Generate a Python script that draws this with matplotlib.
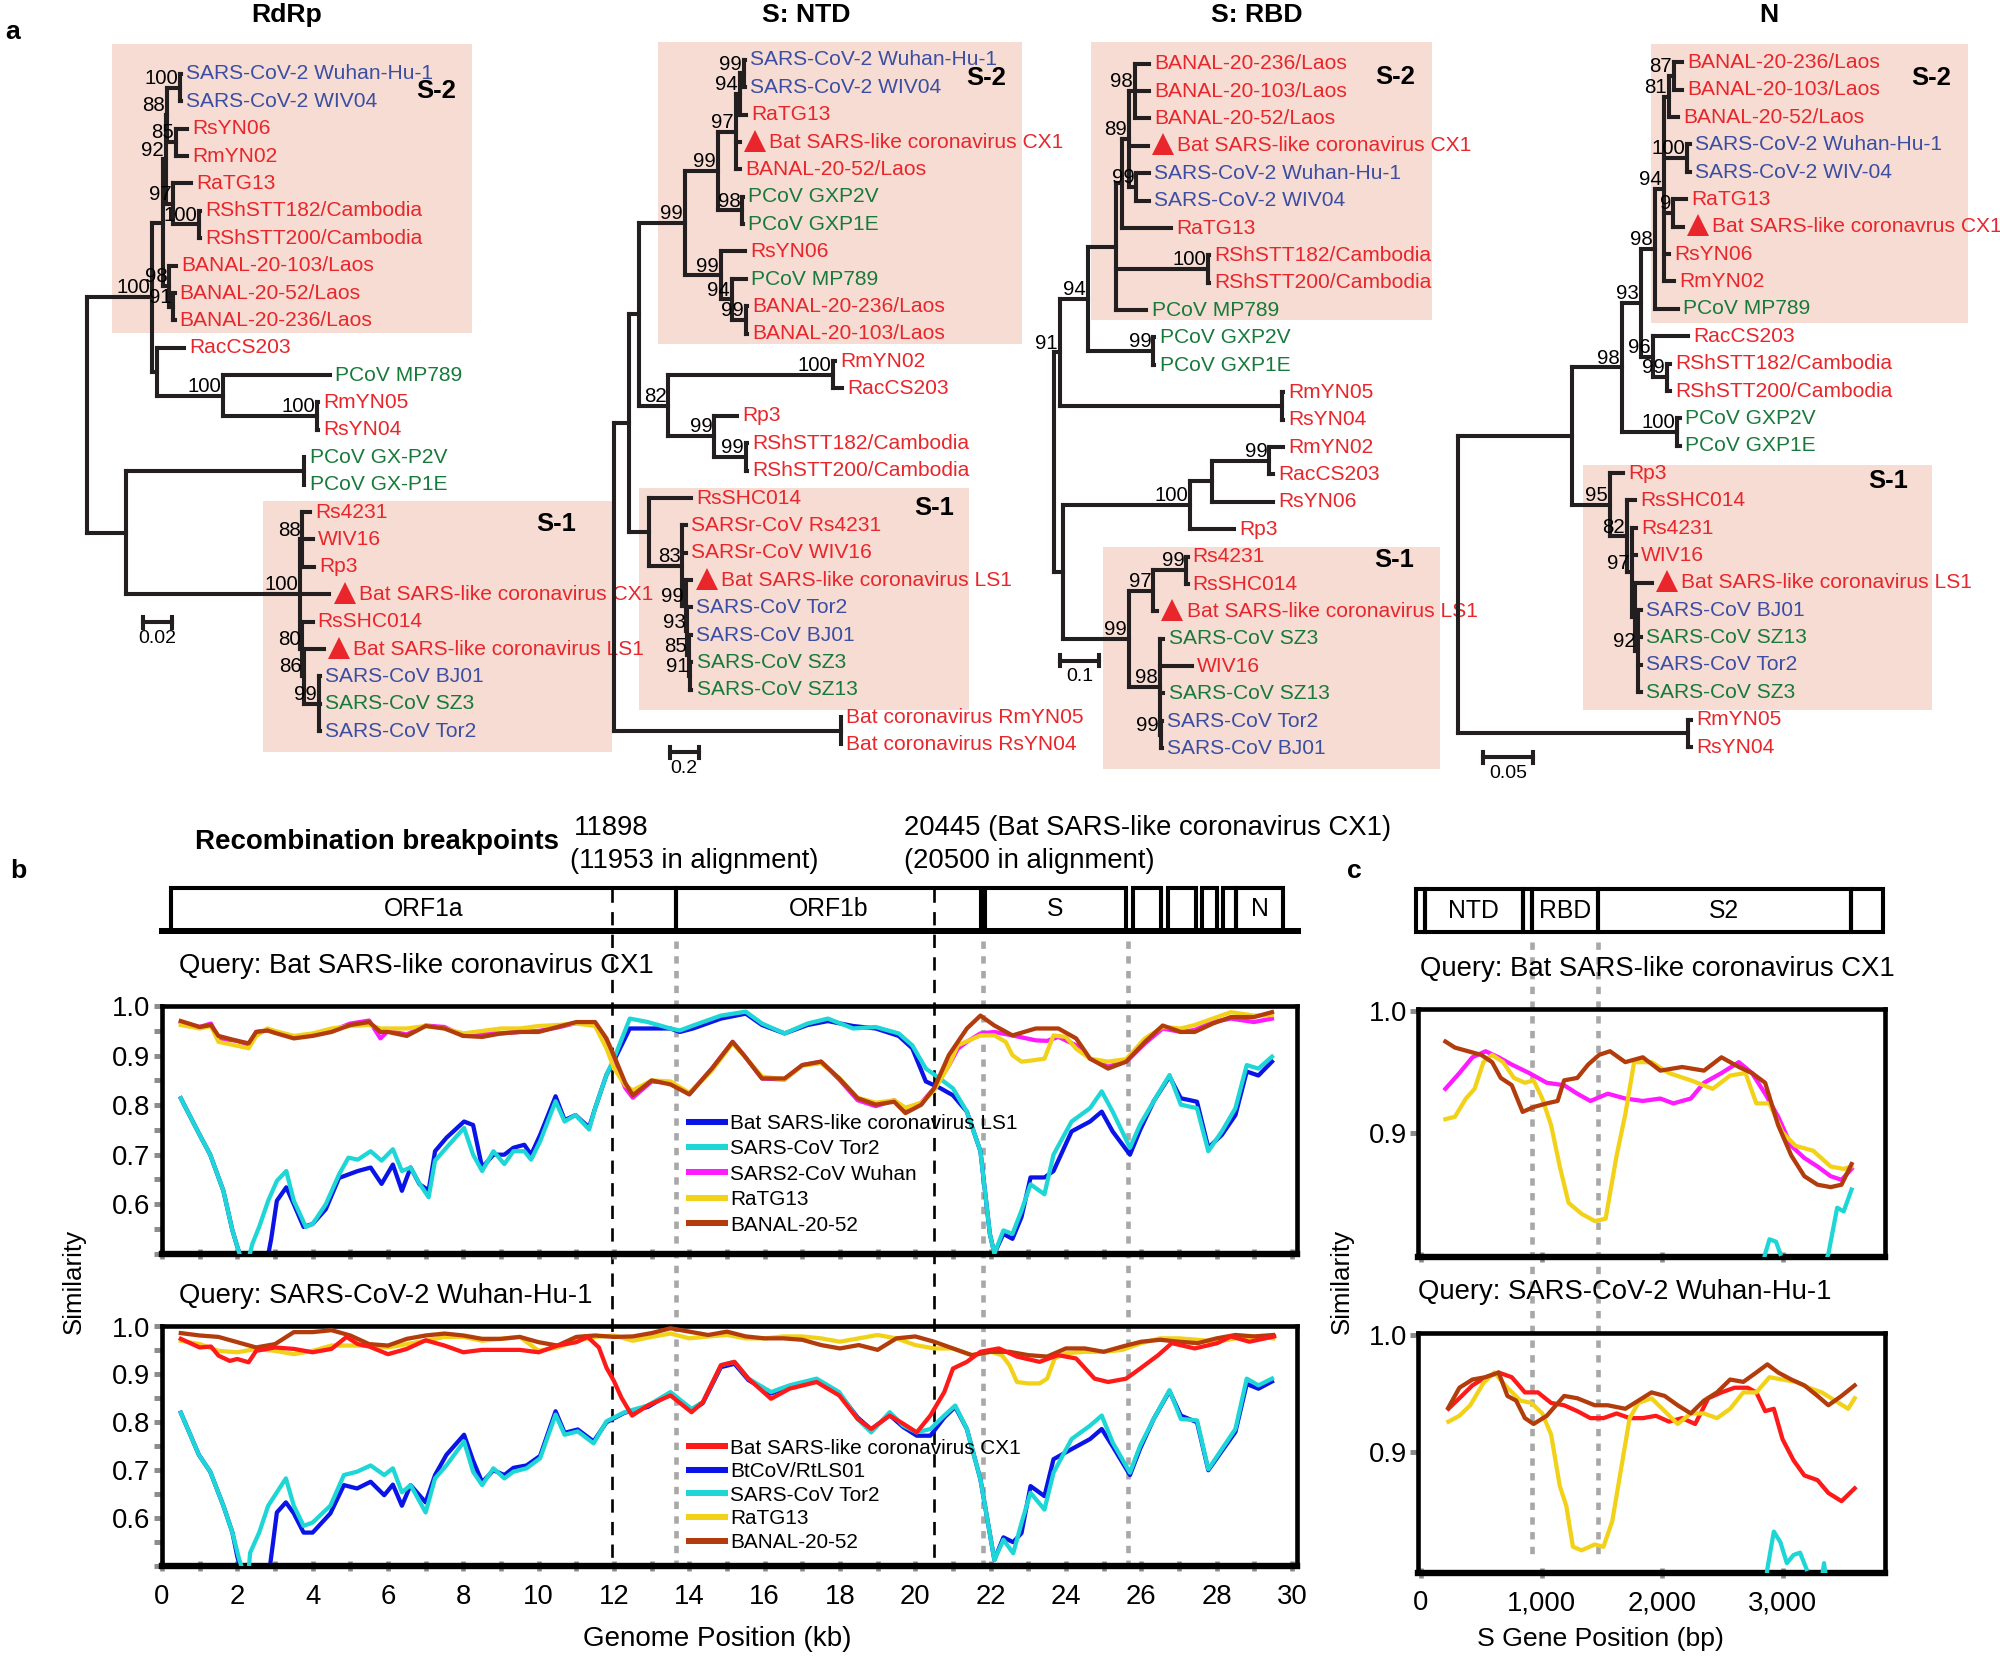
import re
import numpy as np
import matplotlib
matplotlib.use('Agg')
import matplotlib.pyplot as plt
from matplotlib.patches import Rectangle
from matplotlib.lines import Line2D
from matplotlib.collections import LineCollection
import matplotlib.transforms as mtransforms

plt.rcParams['font.family'] = ['Liberation Sans', 'DejaVu Sans']

# ---------------- data: trees (Newick, branch lengths in substitutions/site) ----------------
RDRP_TREE = (
    "(((((("
    "(SARS-CoV-2 Wuhan-Hu-1:0.0009,SARS-CoV-2 WIV04:0.0009)100:0.0087,"
    "(RsYN06:0.0078,RmYN02:0.0078)85:0.0061)88:0.0009,"
    "(RaTG13:0.0122,(RShSTT182/Cambodia:0.0009,RShSTT200/Cambodia:0.0009)100:0.0174)97:0.0052)92:0.0017,"
    "(BANAL-20-103/Laos:0.0043,(BANAL-20-52/Laos:0.0009,BANAL-20-236/Laos:0.0009)91:0.0026)98:0.0043):0.0078,"
    "(RacCS203:0.0183,(PCoV MP789:0.073,(RmYN05:0.0005,RsYN04:0.0005)100:0.0643)100:0.0452):0.0035)100:0.0443,"
    "((PCoV GX-P2V:0.0005,PCoV GX-P1E:0.0005):0.1209,"
    "((Rs4231:0.0052,WIV16:0.007,Rp3:0.0078)88:0.0017,"
    "Bat SARS-like coronavirus CX1:0.02,"
    "(RsSHC014:0.007,(Bat SARS-like coronavirus LS1:0.0139,"
    "(SARS-CoV BJ01:0.0005,SARS-CoV SZ3:0.0005,SARS-CoV Tor2:0.0005)99:0.0104)86:0.0009)80:0.0017"
    ")100:0.1183):0.027);"
)

NTD_TREE = (
    "((((("
    "((((SARS-CoV-2 Wuhan-Hu-1:0.01,SARS-CoV-2 WIV04:0.01)99:0.026,RaTG13:0.043)94:0.026,"
    "Bat SARS-like coronavirus CX1:0.026,BANAL-20-52/Laos:0.026)97:0.122,"
    "(PCoV GXP2V:0.005,PCoV GXP1E:0.005)98:0.165)99:0.226,"
    "(RsYN06:0.165,(PCoV MP789:0.096,(BANAL-20-236/Laos:0.005,BANAL-20-103/Laos:0.005)99:0.096)94:0.078)99:0.243"
    ")99:0.313,"
    "((RmYN02:0.017,RacCS203:0.061)100:1.122,"
    "(Rp3:0.157,(RShSTT182/Cambodia:0.005,RShSTT200/Cambodia:0.005)99:0.217)99:0.313)82:0.2):0.07,"
    "(RsSHC014:0.287,(SARSr-CoV Rs4231:0.026,SARSr-CoV WIV16:0.026,"
    "(Bat SARS-like coronavirus LS1:0.035,(SARS-CoV Tor2:0.026,(SARS-CoV BJ01:0.017,"
    "(SARS-CoV SZ3:0.009,SARS-CoV SZ13:0.009)91:0.009)85:0.009)93:0.009)99:0.026)83:0.226):0.139):0.104,"
    "(Bat coronavirus RmYN05:0.005,Bat coronavirus RsYN04:0.005):1.548);"
)

RBD_TREE = (
    "(((((((BANAL-20-236/Laos:0.035,BANAL-20-103/Laos:0.035,BANAL-20-52/Laos:0.035)98:0.016,"
    "Bat SARS-like coronavirus CX1:0.048,"
    "(SARS-CoV-2 Wuhan-Hu-1:0.032,SARS-CoV-2 WIV04:0.032)99:0.019)89:0.016,RaTG13:0.123):0.016,"
    "(RShSTT182/Cambodia:0.003,RShSTT200/Cambodia:0.003)100:0.232,PCoV MP789:0.077):0.071,"
    "(PCoV GXP2V:0.003,PCoV GXP1E:0.003)99:0.165)94:0.071,"
    "(RmYN05:0.003,RsYN04:0.003):0.561)91:0.016,"
    "((((RmYN02:0.035,RacCS203:0.01)99:0.145,RsYN06:0.155):0.055,Rp3:0.11)100:0.323,"
    "(((Rs4231:0.003,RsSHC014:0.003)99:0.084,Bat SARS-like coronavirus LS1:0.01)97:0.061,"
    "(SARS-CoV SZ3:0.01,WIV16:0.081,SARS-CoV SZ13:0.01,"
    "(SARS-CoV Tor2:0.003,SARS-CoV BJ01:0.003)99:0.003)98:0.077)99:0.168):0.023);"
)

N_TREE = (
    "((((((((BANAL-20-236/Laos:0.008,BANAL-20-103/Laos:0.008)87:0.005,BANAL-20-52/Laos:0.009)81:0.005,"
    "(SARS-CoV-2 Wuhan-Hu-1:0.003,SARS-CoV-2 WIV-04:0.003)100:0.023,"
    "(RaTG13:0.013,Bat SARS-like coronavrus CX1:0.01)9:0.009,"
    "RsYN06:0.005,RmYN02:0.01)94:0.009,PCoV MP789:0.023)98:0.014,"
    "(RacCS203:0.035,(RShSTT182/Cambodia:0.003,RShSTT200/Cambodia:0.003)99:0.014)96:0.012)93:0.019,"
    "(PCoV GXP2V:0.003,PCoV GXP1E:0.003)100:0.055)98:0.05,"
    "(Rp3:0.013,(RsSHC014:0.008,(Rs4231:0.004,WIV16:0.004,"
    "(Bat SARS-like coronavirus LS1:0.017,"
    "(SARS-CoV BJ01:0.003,SARS-CoV SZ13:0.003,SARS-CoV Tor2:0.003,SARS-CoV SZ3:0.003)92:0.003):0.003"
    ")97:0.005)82:0.017)95:0.038):0.115,"
    "(RmYN05:0.003,RsYN04:0.003):0.231);"
)

SCALE_BARS = {'RdRp': 0.02, 'S: NTD': 0.2, 'S: RBD': 0.1, 'N': 0.05}

BLUE_NAMES = ['SARS-CoV-2 Wuhan-Hu-1', 'SARS-CoV-2 WIV04', 'SARS-CoV-2 WIV-04',
              'SARS-CoV BJ01', 'SARS-CoV Tor2']
GREEN_NAMES = ['SARS-CoV SZ3', 'SARS-CoV SZ13']

# ---------------- data: genome maps ----------------
GENES_KB = [('ORF1a', 0.24, 13.65), ('ORF1b', 13.65, 21.74), ('S', 21.84, 25.6),
            ('', 25.77, 26.52), ('', 26.72, 27.46), ('', 27.6, 28.0),
            ('', 28.17, 28.51), ('N', 28.51, 29.77)]
BREAKPOINTS_KB = [11.953, 20.5]
REGION_BOUNDS_KB = [13.65, 21.8, 25.65]

S_DOMAINS_BP = [('', 0, 73), ('NTD', 73, 877), ('', 877, 950), ('RBD', 950, 1493),
                ('S2', 1493, 3560), ('', 3560, 3822)]
S_BOUNDS_BP = [920, 1470]

# ---------------- data: similarity plots, panel b (query CX1) ----------------
Q1_TOR2_KB = [0.5, 1.0, 1.28, 1.63, 1.87, 2.0, 2.1, 2.3, 2.4, 2.58, 2.82, 3.05, 3.3, 3.5, 3.82, 4.0, 4.35,
              4.7, 4.95, 5.2, 5.54, 5.83, 6.13, 6.37, 6.6, 6.84, 7.08, 7.25, 7.55, 8.02, 8.26, 8.5, 8.8,
              9.09, 9.33, 9.62, 9.8, 10.04, 10.45, 10.69, 10.98, 11.34, 11.5, 11.8, 12.0, 12.42, 12.9,
              13.5, 13.75, 14.1, 14.84, 15.5, 15.93, 16.53, 17.14, 17.68, 18.35, 18.95, 19.56, 19.92,
              20.28, 20.65, 21.0, 21.37, 21.73, 21.98, 22.1, 22.34, 22.58, 22.82, 23.06, 23.43, 23.67,
              24.15, 24.64, 24.95, 25.24, 25.7, 25.97, 26.33, 26.75, 27.05, 27.48, 27.78, 28.14, 28.5,
              28.8, 29.11, 29.47]
Q1_TOR2 = [.814, .74, .70, .627, .547, .514, .49, .49, .52, .554, .607, .647, .667, .607, .554, .56, .60,
           .66, .694, .69, .707, .688, .711, .667, .674, .641, .614, .688, .714, .754, .70, .667, .707,
           .681, .707, .707, .69, .727, .808, .767, .78, .751, .794, .861, .894, .975, .968,
           .955, .951, .961, .981, .989, .965, .945, .965, .975, .955, .958, .945, .921,
           .874, .854, .834, .787, .707, .54, .50, .547, .54, .587, .64, .62, .70,
           .767, .794, .828, .787, .714, .761, .808, .861, .801, .794, .707, .747, .794,
           .881, .874, .898]
Q1_LS1_KB = [0.5, 1.0, 1.28, 1.63, 1.87, 2.0, 2.1, 2.8, 2.9, 3.05, 3.3, 3.5, 3.76, 4.0, 4.35, 4.7, 5.2,
             5.54, 5.83, 6.13, 6.37, 6.6, 6.84, 7.08, 7.25, 7.55, 8.02, 8.26, 8.5, 8.8, 9.09, 9.33, 9.62,
             9.8, 10.04, 10.45, 10.69, 10.98, 11.34, 11.5, 11.8, 12.0, 12.42, 12.9, 13.5, 13.75, 14.1,
             14.84, 15.5, 15.93, 16.53, 17.14, 17.68, 18.35, 18.95, 19.56, 19.92, 20.28, 20.65, 21.0,
             21.37, 21.73, 21.98, 22.1, 22.34, 22.58, 22.82, 23.06, 23.43, 23.67, 24.15, 24.64, 24.95,
             25.24, 25.7, 25.97, 26.33, 26.75, 27.05, 27.48, 27.78, 28.14, 28.5, 28.8, 29.11, 29.47]
Q1_LS1 = [.814, .74, .70, .627, .547, .514, .49, .49, .53, .607, .634, .60, .554, .56, .59, .653, .667,
          .674, .641, .68, .627, .674, .64, .628, .707, .734, .767, .76, .674, .70, .70, .714, .72,
          .70, .74, .818, .77, .78, .755, .794, .861, .89, .955, .955, .955, .948, .955,
          .975, .985, .962, .945, .962, .97, .96, .955, .94, .915, .848, .835, .82,
          .787, .707, .54, .50, .54, .53, .574, .654, .654, .667, .747, .767, .787,
          .747, .70, .75, .808, .858, .814, .807, .714, .74, .78, .868, .86, .888]
Q1_UPPER_KB = [0.5, 1.0, 1.3, 1.5, 2.0, 2.3, 2.5, 2.8, 3.0, 3.5, 4.0, 4.5, 5.0, 5.5, 5.8, 6.0, 6.5, 7.0,
               7.5, 8.0, 8.5, 9.0, 9.5, 10.0, 10.5, 11.0, 11.5, 11.8, 12.0, 12.3, 12.5, 13.0, 13.5, 14.0,
               14.6, 15.15, 15.45, 15.93, 16.53, 17.0, 17.5, 17.98, 18.47, 18.95, 19.44, 19.74, 20.16,
               20.5, 20.89]
Q1_WUHAN_HEAD = [.968, .958, .965, .935, .93, .922, .948, .951, .948, .938, .943, .95, .965, .971, .935,
                 .95, .943, .961, .958, .94, .945, .945, .948, .95, .957, .966, .965, .93, .89, .835,
                 .815, .848, .845, .822, .874, .928, .901, .854, .852, .881, .888, .852, .81, .798, .81,
                 .79, .805, .834, .88]
Q1_RATG13_HEAD = [.962, .955, .96, .928, .92, .915, .94, .955, .95, .94, .945, .955, .96, .962, .955,
                  .955, .955, .96, .955, .945, .95, .955, .955, .96, .962, .965, .96, .915, .875, .84,
                  .83, .85, .848, .825, .87, .925, .9, .858, .852, .88, .885, .855, .815, .805, .81,
                  .795, .805, .83, .88]
Q1_BANAL_HEAD = [.97, .958, .962, .94, .93, .925, .948, .951, .946, .935, .94, .948, .962, .968, .948,
                 .948, .94, .96, .955, .94, .938, .945, .948, .948, .958, .968, .968, .935, .90, .845,
                 .82, .85, .842, .822, .874, .928, .901, .854, .854, .881, .888, .854, .814, .801, .807,
                 .784, .801, .834, .901]
Q1_WUHAN_TAIL_KB = [21.13, 21.37, 21.73, 22.1, 22.58, 23.2, 23.5, 23.8, 24.27, 24.64, 25.12, 25.6, 26.1,
                    26.57, 27.05, 27.42, 27.9, 28.38, 28.99, 29.47]
Q1_WUHAN_TAIL = [.914, .928, .945, .948, .941, .931, .93, .938, .921, .894, .878, .888, .925,
                 .955, .948, .952, .968, .975, .968, .975]
Q1_RATG13_TAIL_KB = [21.13, 21.73, 22.1, 22.4, 22.58, 22.82, 23.06, 23.43, 23.67, 24.0, 24.27, 24.64,
                     25.12, 25.6, 26.1, 26.57, 27.05, 27.42, 27.9, 28.38, 28.99, 29.47]
Q1_RATG13_TAIL = [.921, .941, .941, .928, .901, .888, .89, .894, .941, .938, .914, .894,
                  .888, .893, .935, .958, .955, .962, .975, .988, .981, .982]
Q1_BANAL_TAIL_KB = [21.37, 21.73, 22.1, 22.58, 23.2, 23.8, 24.27, 24.64, 25.12, 25.6, 26.1, 26.57,
                    27.05, 27.42, 27.9, 28.38, 28.99, 29.47]
Q1_BANAL_TAIL = [.955, .981, .961, .941, .955, .955, .935, .894, .874, .888, .928, .961,
                 .948, .948, .965, .978, .978, .988]

# ---------------- data: similarity plots, panel b (query Wuhan-Hu-1) ----------------
Q2_CX1_KB = [0.5, 1.0, 1.3, 1.5, 1.8, 2.0, 2.3, 2.5, 3.0, 3.5, 4.0, 4.5, 4.9, 5.2, 5.5, 6.0, 6.5, 7.0,
             7.5, 8.0, 8.5, 9.0, 9.5, 10.0, 10.5, 11.0, 11.3, 11.6, 11.8, 12.0, 12.2, 12.48, 12.9, 13.5,
             14.06, 14.36, 14.84, 15.2, 15.57, 16.17, 16.66, 17.38, 17.98, 18.47, 18.83, 19.32, 19.68,
             20.04, 20.4, 20.77, 21.0, 21.37, 21.73, 22.22, 22.7, 23.3, 23.79, 24.27, 24.76, 25.12,
             25.6, 25.97, 26.45, 26.81, 27.42, 28.02, 28.38, 28.87, 29.53]
Q2_CX1 = [.974, .956, .958, .939, .928, .932, .925, .949, .956, .953, .946, .953, .978, .963, .958,
          .942, .953, .971, .96, .946, .951, .951, .951, .946, .96, .967, .978, .956, .914, .886, .851,
          .814, .835, .856, .821, .842, .919, .926, .891, .849, .87, .884, .856, .807, .786, .814,
          .797, .779, .814, .863, .912, .926, .947, .954, .937, .926, .94, .933, .891, .884,
          .891, .912, .94, .965, .954, .965, .979, .968, .979]
Q2_TOR2_KB = [0.5, 0.98, 1.28, 1.63, 1.87, 2.05, 2.15, 2.3, 2.34, 2.58, 2.82, 3.05, 3.29, 3.5, 3.76,
              4.0, 4.47, 4.83, 5.18, 5.54, 5.9, 6.13, 6.37, 6.6, 7.0, 7.25, 7.55, 8.02, 8.26, 8.5, 8.8,
              9.09, 9.33, 9.68, 10.04, 10.45, 10.69, 11.04, 11.46, 11.8, 12.28, 12.9, 13.5, 14.06,
              14.36, 14.84, 15.2, 15.57, 16.17, 16.66, 17.38, 17.98, 18.47, 18.83, 19.32, 19.68, 20.04,
              20.4, 20.77, 21.06, 21.37, 21.73, 22.1, 22.34, 22.6, 22.82, 23.06, 23.43, 23.67, 24.15,
              24.64, 24.95, 25.24, 25.7, 25.97, 26.33, 26.75, 27.05, 27.48, 27.78, 28.14, 28.5, 28.8,
              29.11, 29.47]
Q2_TOR2 = [.82, .732, .697, .626, .57, .514, .49, .49, .528, .57, .626, .654, .683, .626, .584,
           .591, .626, .69, .697, .71, .69, .704, .654, .669, .612, .683, .71, .76, .697, .669, .704,
           .683, .697, .704, .725, .816, .774, .781, .756, .802, .821, .835, .863, .828,
           .842, .919, .926, .891, .863, .877, .891, .863, .807, .779, .821, .793, .779,
           .786, .814, .835, .786, .681, .513, .555, .527, .59, .653, .618, .695, .765,
           .793, .814, .758, .695, .751, .807, .867, .807, .804, .702, .744, .786, .891,
           .877, .891]
Q2_LS01_KB = [0.5, 0.98, 1.28, 1.63, 1.87, 2.0, 2.1, 2.85, 2.95, 3.05, 3.29, 3.5, 3.76, 4.0, 4.47, 4.83,
              5.18, 5.54, 5.9, 6.13, 6.37, 6.6, 7.0, 7.25, 7.55, 8.02, 8.26, 8.5, 8.8, 9.09, 9.33, 9.68,
              10.04, 10.45, 10.69, 11.04, 11.46, 11.8, 12.28, 12.9, 13.5, 14.06, 14.36, 14.84, 15.2,
              15.57, 16.17, 16.66, 17.38, 17.98, 18.47, 18.83, 19.32, 19.68, 20.04, 20.4, 20.77, 21.06,
              21.37, 21.73, 22.1, 22.34, 22.6, 22.82, 23.06, 23.43, 23.67, 24.15, 24.64, 24.95, 25.24,
              25.7, 25.97, 26.33, 26.75, 27.05, 27.48, 27.78, 28.14, 28.5, 28.8, 29.11, 29.47]
Q2_LS01 = [.82, .732, .697, .626, .57, .52, .49, .49, .55, .612, .633, .61, .57, .57, .61, .669,
           .662, .676, .648, .67, .626, .669, .633, .69, .732, .774, .72, .675, .70, .69, .705, .71,
           .73, .823, .778, .785, .76, .80, .82, .832, .86, .825, .84, .915, .922,
           .888, .86, .875, .888, .86, .81, .785, .815, .79, .772, .772, .81, .832,
           .786, .681, .513, .56, .55, .569, .667, .646, .723, .744, .765, .786, .75,
           .69, .745, .807, .865, .814, .80, .70, .74, .78, .88, .87, .885]
Q2_HALFKB = [0.5, 1.0, 1.5, 2.0, 2.5, 3.0, 3.5, 4.0, 4.5, 5.0, 5.5, 6.0, 6.5, 7.0, 7.5, 8.0, 8.5, 9.0,
             9.5, 10.0, 10.5, 11.0, 11.5, 12.0, 12.5, 13.0, 13.5, 14.0, 14.5, 15.0, 15.5, 16.0, 16.5,
             17.0, 17.5, 18.0, 18.5, 19.0, 19.5, 20.0, 20.5, 21.0, 21.5, 22.0, 22.5, 23.0, 23.5, 24.0,
             24.5, 25.0, 25.5, 26.0, 26.5, 27.0, 27.5, 28.0, 28.5, 29.0, 29.5]
Q2_BANAL = [.986, .981, .978, .967, .956, .963, .988, .988, .992, .981, .963, .96, .974, .981, .985,
            .981, .974, .974, .978, .967, .96, .978, .981, .978, .979, .986, .996, .989, .982, .989,
            .979, .975, .975, .972, .961, .954, .961, .951, .975, .979, .968, .954, .94, .947, .947,
            .94, .937, .954, .954, .947, .958, .968, .972, .968, .965, .975, .982, .979, .982]
Q2_RATG13_KB = [0.5, 1.0, 1.5, 2.0, 2.5, 3.0, 3.5, 4.0, 4.5, 5.0, 5.5, 6.0, 6.5, 7.0, 7.5, 8.0, 8.5,
                9.0, 9.5, 10.0, 10.5, 11.0, 11.5, 12.0, 12.5, 13.0, 13.5, 14.0, 14.5, 15.0, 15.5, 16.0,
                16.5, 17.0, 17.5, 18.0, 18.5, 19.0, 19.5, 20.0, 20.5, 21.0, 21.5, 22.0, 22.3, 22.5,
                22.7, 23.0, 23.3, 23.5, 23.7, 24.0, 24.5, 25.0, 25.5, 26.0, 26.5, 27.0, 27.5, 28.0,
                28.5, 29.0, 29.5]
Q2_RATG13 = [.97, .963, .949, .946, .953, .949, .942, .949, .96, .96, .96, .956, .963, .97, .978,
             .978, .97, .974, .978, .949, .956, .97, .978, .981, .97, .978, .985, .975, .979, .982,
             .975, .975, .979, .979, .975, .968, .975, .982, .975, .961, .954, .954, .94, .947, .94,
             .919, .884, .881, .881, .891, .933, .944, .947, .947, .951, .965, .975, .975, .972, .968,
             .975, .979, .975]

# ---------------- data: panel c (S gene, bp) ----------------
C1_BANAL_BP = [203, 282, 391, 500, 590, 662, 753, 843, 934, 1043, 1133, 1187, 1296, 1386, 1477, 1567,
               1694, 1839, 1984, 2165, 2346, 2491, 2635, 2744, 2853, 2961, 3070, 3178, 3287, 3396,
               3486, 3569]
C1_BANAL = [.975, .970, .967, .964, .958, .945, .939, .917, .921, .924, .926, .943, .945, .956, .964,
            .967, .958, .962, .951, .954, .951, .962, .954, .949, .941, .906, .881, .864, .857, .855,
            .857, .874]
C1_WUHAN_BP = [203, 319, 427, 536, 644, 753, 898, 1043, 1187, 1296, 1405, 1549, 1694, 1839, 1984,
               2092, 2237, 2346, 2491, 2635, 2744, 2853, 2961, 3070, 3178, 3287, 3396, 3486, 3569]
C1_WUHAN = [.936, .949, .962, .967, .962, .956, .949, .941, .939, .932, .926, .932, .928, .926, .928,
            .924, .928, .941, .949, .958, .949, .932, .913, .889, .879, .872, .864, .861, .870]
C1_RATG13_BP = [203, 282, 373, 445, 518, 590, 681, 771, 862, 934, 1006, 1079, 1151, 1224, 1332, 1441,
                1531, 1622, 1694, 1767, 1911, 2056, 2237, 2418, 2563, 2690, 2780, 2889, 2997, 3106,
                3251, 3396, 3504, 3569]
C1_RATG13 = [.911, .913, .928, .936, .958, .964, .958, .945, .941, .943, .928, .906, .872, .842, .833,
             .827, .829, .881, .915, .958, .958, .949, .943, .936, .947, .949, .924, .924, .900, .889,
             .885, .872, .870, .872]
C1_TOR2_BP = [2830, 2853, 2889, 2943, 2979, 3000, 3340, 3377, 3450, 3504, 3569]
C1_TOR2 = [.79, .80, .812, .81, .80, np.nan, .79, .80, .838, .835, .853]

C2_CX1_BP = [228, 319, 427, 536, 644, 753, 862, 970, 1079, 1187, 1296, 1405, 1513, 1622, 1730, 1839,
             1948, 2056, 2165, 2273, 2382, 2491, 2599, 2708, 2780, 2853, 2925, 2997, 3088, 3178, 3287,
             3377, 3486, 3595]
C2_CX1 = [.937, .946, .957, .964, .968, .964, .951, .951, .942, .940, .935, .929, .929, .933, .929,
          .929, .931, .926, .929, .924, .946, .951, .955, .955, .951, .935, .937, .911, .893, .880,
          .876, .865, .858, .869]
C2_BANAL_BP = [228, 319, 427, 536, 644, 717, 789, 862, 934, 1043, 1187, 1296, 1441, 1549, 1694, 1803,
               1911, 2020, 2128, 2237, 2346, 2454, 2563, 2672, 2780, 2871, 2961, 3070, 3178, 3287,
               3377, 3486, 3595]
C2_BANAL = [.938, .955, .962, .964, .968, .948, .944, .929, .924, .931, .948, .946, .940, .940, .937,
            .944, .951, .948, .940, .933, .944, .951, .962, .960, .968, .975, .968, .962, .957, .948,
            .940, .948, .957]
C2_RATG13_BP = [228, 319, 409, 518, 608, 717, 825, 916, 1006, 1079, 1151, 1205, 1260, 1332, 1441, 1513,
                1586, 1658, 1730, 1803, 1911, 2020, 2128, 2237, 2346, 2454, 2563, 2672, 2780, 2889,
                2997, 3106, 3214, 3323, 3432, 3541, 3595]
C2_RATG13 = [.926, .931, .940, .959, .968, .955, .944, .942, .933, .915, .871, .854, .819, .816, .821,
             .819, .841, .885, .929, .942, .946, .935, .924, .933, .933, .929, .937, .951, .951, .964,
             .962, .960, .955, .951, .944, .937, .946]
C2_TOR2_BP = [2860, 2871, 2925, 2979, 3033, 3088, 3142, 3196, 3210, 3320, 3341, 3360]
C2_TOR2 = [.79, .80, .832, .823, .805, .812, .814, .80, np.nan, .79, .805, .79]

# ---------------- styling ----------------
W, H = 1568.0, 1300.0
TREE_BLACK = '#231f20'
BOX_PINK = '#f6dcd2'
LEAF_RED = '#e8262b'
LEAF_BLUE = '#3b4ea3'
LEAF_GREEN = '#187a3a'
C_BLUE = '#0a14e6'
C_CYAN = '#1fd6d6'
C_MAGENTA = '#ff1aff'
C_YELLOW = '#f2d219'
C_BROWN = '#b33c0c'
C_RED = '#ff1a1a'
TICK_GRAY = '#8c8c8c'


def fx(px):
    return px / W


def fy(py):
    return 1.0 - py / H


fig = plt.figure(figsize=(15.68, 13.0), dpi=2000 / 15.68)
fig.patch.set_facecolor('white')


def px_offset(ax, dx, dy):
    return mtransforms.offset_copy(ax.transData, fig=fig, x=dx * 0.01, y=dy * 0.01, units='inches')


def parse_newick(s):
    tokens = [t for t in re.findall(r"[(),:;]|[^(),:;]+", s)]
    special = set('(),:;')
    pos = 0

    def node():
        nonlocal pos
        n = {'children': [], 'name': '', 'bl': 0.0}
        if tokens[pos] == '(':
            pos += 1
            n['children'].append(node())
            while tokens[pos] == ',':
                pos += 1
                n['children'].append(node())
            pos += 1  # ')'
        if pos < len(tokens) and tokens[pos] not in special:
            n['name'] = tokens[pos].strip()
            pos += 1
        if pos < len(tokens) and tokens[pos] == ':':
            pos += 1
            n['bl'] = float(tokens[pos])
            pos += 1
        return n
    return node()


def leaf_color(name):
    if name in BLUE_NAMES:
        return LEAF_BLUE
    if name.startswith('PCoV') or name in GREEN_NAMES:
        return LEAF_GREEN
    return LEAF_RED


def draw_tree(newick, title, root_px, ppu, y0_px, title_x, bar_px, boxes, dy_px=21.47):
    tree = parse_newick(newick)
    tree['bl'] = 0.0
    leaves = []

    def layout(n, x):
        n['x'] = x + n['bl']
        if n['children']:
            for ch in n['children']:
                layout(ch, n['x'])
            n['y'] = (n['children'][0]['y'] + n['children'][-1]['y']) / 2.0
        else:
            n['y'] = float(len(leaves))
            leaves.append(n)
    layout(tree, 0.0)

    ax = fig.add_axes([0, fy(615), 1, 615 / H])
    ax.set_xlim(-root_px / ppu, (W - root_px) / ppu)
    ax.set_ylim((615 - y0_px) / dy_px, -y0_px / dy_px)
    ax.axis('off')
    ax.patch.set_alpha(0)

    segs = []

    def collect(n):
        if not n['children']:
            return
        segs.append([(n['x'], n['children'][0]['y']), (n['x'], n['children'][-1]['y'])])
        for ch in n['children']:
            segs.append([(n['x'], ch['y']), (ch['x'], ch['y'])])
            collect(ch)
        if n['name']:
            ax.text(n['x'], n['y'], n['name'], transform=px_offset(ax, -1.5, 0),
                    ha='right', va='bottom', fontsize=11.5, color='black')
    collect(tree)
    ax.add_collection(LineCollection(segs, colors=TREE_BLACK, linewidths=2.3,
                                     capstyle='projecting'))

    for lf in leaves:
        name = lf['name']
        if name.startswith('Bat SARS-like'):
            ax.plot([lf['x']], [lf['y']], marker='^', ms=12.5, color=LEAF_RED, mec='none',
                    transform=px_offset(ax, 12, 1), clip_on=False)
            ax.text(lf['x'], lf['y'], name, transform=px_offset(ax, 23, 0), ha='left',
                    va='center', fontsize=11.9, color=leaf_color(name))
        else:
            ax.text(lf['x'], lf['y'], name, transform=px_offset(ax, 4, 0), ha='left',
                    va='center', fontsize=11.9, color=leaf_color(name))

    # scale bar
    bx, by = bar_px
    sb = SCALE_BARS[title]
    x0 = (bx - root_px) / ppu
    yb = (by - y0_px) / dy_px
    ax.plot([x0, x0 + sb], [yb, yb], color=TREE_BLACK, lw=2.3, clip_on=False)
    for xe in (x0, x0 + sb):
        ax.plot([xe, xe], [yb - 0.2, yb + 0.2], color=TREE_BLACK, lw=2.3, clip_on=False)
    ax.text(x0 + sb / 2, yb, f'{sb:g}', transform=px_offset(ax, 0, -6), ha='center', va='top',
            fontsize=11)

    # clade boxes (drawn behind everything)
    for lab, (bx0, by0, bx1, by1), (lx, ly) in boxes:
        fig.add_artist(Rectangle((fx(bx0), fy(by1)), (bx1 - bx0) / W, (by1 - by0) / H,
                                 transform=fig.transFigure, facecolor=BOX_PINK,
                                 edgecolor='none', zorder=-2))
        fig.text(fx(lx), fy(ly), lab, ha='center', va='center', fontsize=14.5,
                 fontweight='bold')
    fig.text(fx(title_x), fy(12), title, ha='center', va='center', fontsize=15,
             fontweight='bold')


draw_tree(RDRP_TREE, 'RdRp', 68, 1150, 58, 225, (112, 488),
          [('S-2', (88, 35, 370, 261), (342, 71)), ('S-1', (206, 393, 480, 590), (436, 411))])
draw_tree(NTD_TREE, 'S: NTD', 481, 115, 47, 632, (525, 590),
          [('S-2', (516, 33, 801, 270), (773, 61)), ('S-1', (501, 383, 760, 557), (732, 398))])
draw_tree(RBD_TREE, 'S: RBD', 826, 310, 50, 985, (831, 518),
          [('S-2', (855, 33, 1123, 251), (1094, 60)), ('S-1', (865, 429, 1129, 603), (1093, 439))])
draw_tree(N_TREE, 'N', 1143, 780, 49, 1387, (1163, 594),
          [('S-2', (1294, 35, 1543, 253), (1514, 61)), ('S-1', (1241, 365, 1515, 557), (1480, 377))])

fig.text(fx(10), fy(25), 'a', fontsize=15, fontweight='bold', ha='center', va='center')


# ---------------- panel b ----------------
def sim_axes(x0, y0, x1, y1, xlim, ylim):
    ax = fig.add_axes([fx(x0), fy(y1), (x1 - x0) / W, (y1 - y0) / H])
    ax.patch.set_alpha(0)
    ax.set_xlim(*xlim)
    ax.set_ylim(*ylim)
    for s in ('left', 'top', 'right'):
        ax.spines[s].set_linewidth(2.6)
    ax.spines['bottom'].set_linewidth(3.6)
    ax.tick_params(axis='y', which='both', direction='out', length=4.5, width=2.8,
                   color=TICK_GRAY, labelsize=15.5, pad=2)
    ax.tick_params(axis='x', which='both', direction='inout', length=6, width=2.6,
                   color=TICK_GRAY, labelsize=15.5, pad=7)
    return ax


def thick_legend(ax, handles, labels, anchor, spacing):
    leg = ax.legend(handles, labels, loc='upper left', bbox_to_anchor=anchor, frameon=False,
                    fontsize=11.7, handlelength=1.75, handletextpad=0.25,
                    labelspacing=spacing, borderpad=0, borderaxespad=0)
    for ln in leg.get_lines():
        ln.set_linewidth(3.4)
    return leg


KB_LIM = (0, 30.14)
ax_b1 = sim_axes(127, 789, 1017, 983, KB_LIM, (0.5, 1.0))
ax_b2 = sim_axes(127, 1040, 1017, 1228, KB_LIM, (0.5, 1.0))
for ax in (ax_b1, ax_b2):
    ax.set_yticks(np.arange(0.5, 1.001, 0.05))
    ax.set_yticklabels(['' if abs(v - 0.5) < 1e-6 or int(round(v * 100)) % 10 else f'{v:.1f}'
                        for v in np.arange(0.5, 1.001, 0.05)])
    ax.set_xticks(np.arange(0, 31, 2))
    ax.set_xticks(np.arange(1, 30, 2), minor=True)
ax_b1.tick_params(axis='x', labelbottom=False)

lw_c = 2.4
h1 = [
    ax_b1.plot(Q1_LS1_KB, Q1_LS1, color=C_BLUE, lw=lw_c, zorder=2)[0],
    ax_b1.plot(Q1_TOR2_KB, Q1_TOR2, color=C_CYAN, lw=lw_c, zorder=3)[0],
    ax_b1.plot(Q1_UPPER_KB + Q1_WUHAN_TAIL_KB, Q1_WUHAN_HEAD + Q1_WUHAN_TAIL,
               color=C_MAGENTA, lw=lw_c, zorder=4)[0],
    ax_b1.plot(Q1_UPPER_KB + Q1_RATG13_TAIL_KB, Q1_RATG13_HEAD + Q1_RATG13_TAIL,
               color=C_YELLOW, lw=lw_c, zorder=5)[0],
    ax_b1.plot(Q1_UPPER_KB + Q1_BANAL_TAIL_KB, Q1_BANAL_HEAD + Q1_BANAL_TAIL,
               color=C_BROWN, lw=lw_c, zorder=6)[0],
]
thick_legend(ax_b1, h1, ['Bat SARS-like coronavirus LS1', 'SARS-CoV Tor2', 'SARS2-CoV Wuhan',
                         'RaTG13', 'BANAL-20-52'], (0.464, 0.565), 0.31)

h2 = [
    ax_b2.plot(Q2_CX1_KB, Q2_CX1, color=C_RED, lw=lw_c, zorder=6)[0],
    ax_b2.plot(Q2_LS01_KB, Q2_LS01, color=C_BLUE, lw=lw_c, zorder=2)[0],
    ax_b2.plot(Q2_TOR2_KB, Q2_TOR2, color=C_CYAN, lw=lw_c, zorder=3)[0],
    ax_b2.plot(Q2_RATG13_KB, Q2_RATG13, color=C_YELLOW, lw=lw_c, zorder=4)[0],
    ax_b2.plot(Q2_HALFKB, Q2_BANAL, color=C_BROWN, lw=lw_c, zorder=5)[0],
]
thick_legend(ax_b2, h2, ['Bat SARS-like coronavirus CX1', 'BtCoV/RtLS01', 'SARS-CoV Tor2',
                         'RaTG13', 'BANAL-20-52'], (0.464, 0.532), 0.22)
ax_b2.set_xticklabels([str(v) for v in range(0, 31, 2)])

# genome map
ax_bm = fig.add_axes([fx(127), fy(730), 890 / W, 34 / H])
ax_bm.set_xlim(*KB_LIM)
ax_bm.set_ylim(0, 1)
ax_bm.axis('off')
ax_bm.patch.set_alpha(0)
for lab, g0, g1 in GENES_KB:
    ax_bm.add_patch(Rectangle((g0, 0), g1 - g0, 1, fill=False, lw=2.3, edgecolor='black',
                              clip_on=False))
    if lab:
        ax_bm.text((g0 + g1) / 2, 0.5, lab, ha='center', va='center', fontsize=14)
ax_bm.plot([-0.07, 30.25], [0, 0], color='black', lw=3.4, clip_on=False, solid_capstyle='butt')

tb = mtransforms.blended_transform_factory(ax_b1.transData, fig.transFigure)
for xb in BREAKPOINTS_KB:
    fig.add_artist(Line2D([xb, xb], [fy(697), fy(1228)], transform=tb, color='black', lw=1.5,
                          dashes=(5, 3.5), zorder=-1))
for xr in REGION_BOUNDS_KB:
    fig.add_artist(Line2D([xr, xr], [fy(738), fy(1228)], transform=tb, color='#a8a8a8', lw=2.6,
                          dashes=(1.6, 1.6), zorder=-1))

fig.text(fx(8), fy(683), 'b', fontsize=15, fontweight='bold', ha='left', va='center')
fig.text(fx(153), fy(660), 'Recombination breakpoints', fontsize=15.6, fontweight='bold',
         ha='left', va='center')
fig.text(fx(450), fy(649), '11898', fontsize=15.5, ha='left', va='center')
fig.text(fx(447), fy(675), '(11953 in alignment)', fontsize=15.5, ha='left', va='center')
fig.text(fx(709), fy(649), '20445 (Bat SARS-like coronavirus CX1)', fontsize=15.5, ha='left',
         va='center')
fig.text(fx(709), fy(675), '(20500 in alignment)', fontsize=15.5, ha='left', va='center')
fig.text(fx(140), fy(757), 'Query: Bat SARS-like coronavirus CX1', fontsize=15.5, ha='left',
         va='center')
fig.text(fx(140), fy(1016), 'Query: SARS-CoV-2 Wuhan-Hu-1', fontsize=15.5, ha='left',
         va='center')
fig.text(fx(562), fy(1285), 'Genome Position (kb)', fontsize=15.7, ha='center', va='center')
fig.text(fx(58), fy(1005), 'Similarity', fontsize=14.6, ha='center', va='center', rotation=90)

# ---------------- panel c ----------------
BP_LIM = (-21, 3848)
ax_c1 = sim_axes(1112, 791, 1478, 986, BP_LIM, (0.797, 1.002))
ax_c2 = sim_axes(1112, 1045, 1478, 1233, BP_LIM, (0.797, 1.002))
for ax in (ax_c1, ax_c2):
    ax.set_yticks([0.9, 1.0])
    ax.set_yticklabels(['0.9', '1.0'])
    ax.set_xticks([0, 1000, 2000, 3000])
ax_c1.tick_params(axis='x', labelbottom=False)
ax_c2.set_xticklabels(['0', '1,000', '2,000', '3,000'])

ax_c1.plot(C1_WUHAN_BP, C1_WUHAN, color=C_MAGENTA, lw=lw_c, zorder=2)
ax_c1.plot(C1_RATG13_BP, C1_RATG13, color=C_YELLOW, lw=lw_c, zorder=3)
ax_c1.plot(C1_BANAL_BP, C1_BANAL, color=C_BROWN, lw=lw_c, zorder=4)
ax_c1.plot(C1_TOR2_BP, C1_TOR2, color=C_CYAN, lw=lw_c, zorder=5)

ax_c2.plot(C2_RATG13_BP, C2_RATG13, color=C_YELLOW, lw=lw_c, zorder=3)
ax_c2.plot(C2_BANAL_BP, C2_BANAL, color=C_BROWN, lw=lw_c, zorder=4)
ax_c2.plot(C2_CX1_BP, C2_CX1, color=C_RED, lw=lw_c, zorder=2)
ax_c2.plot(C2_TOR2_BP, C2_TOR2, color=C_CYAN, lw=lw_c, zorder=5)

ax_cm = fig.add_axes([fx(1110), fy(731), 366 / W, 34 / H])
ax_cm.set_xlim(0, 3822)
ax_cm.set_ylim(0, 1)
ax_cm.axis('off')
ax_cm.patch.set_alpha(0)
for lab, d0, d1 in S_DOMAINS_BP:
    ax_cm.add_patch(Rectangle((d0, 0), d1 - d0, 1, fill=False, lw=2.3, edgecolor='black',
                              clip_on=False))
    if lab:
        ax_cm.text((d0 + d1) / 2, 0.5, lab, ha='center', va='center', fontsize=14)

tc = mtransforms.blended_transform_factory(ax_c1.transData, fig.transFigure)
for xs in S_BOUNDS_BP:
    fig.add_artist(Line2D([xs, xs], [fy(739), fy(1222)], transform=tc, color='#a8a8a8', lw=2.6,
                          dashes=(1.6, 1.6), zorder=-1))

fig.text(fx(1062), fy(683), 'c', fontsize=15, fontweight='bold', ha='center', va='center')
fig.text(fx(1113), fy(760), 'Query: Bat SARS-like coronavirus CX1', fontsize=15.5, ha='left',
         va='center')
fig.text(fx(1112), fy(1013), 'Query: SARS-CoV-2 Wuhan-Hu-1', fontsize=15.5, ha='left',
         va='center')
fig.text(fx(1255), fy(1285), 'S Gene Position (bp)', fontsize=15, ha='center', va='center')
fig.text(fx(1052), fy(1005), 'Similarity', fontsize=14.6, ha='center', va='center', rotation=90)

fig.savefig('out.png', dpi=fig.dpi, facecolor='white')
